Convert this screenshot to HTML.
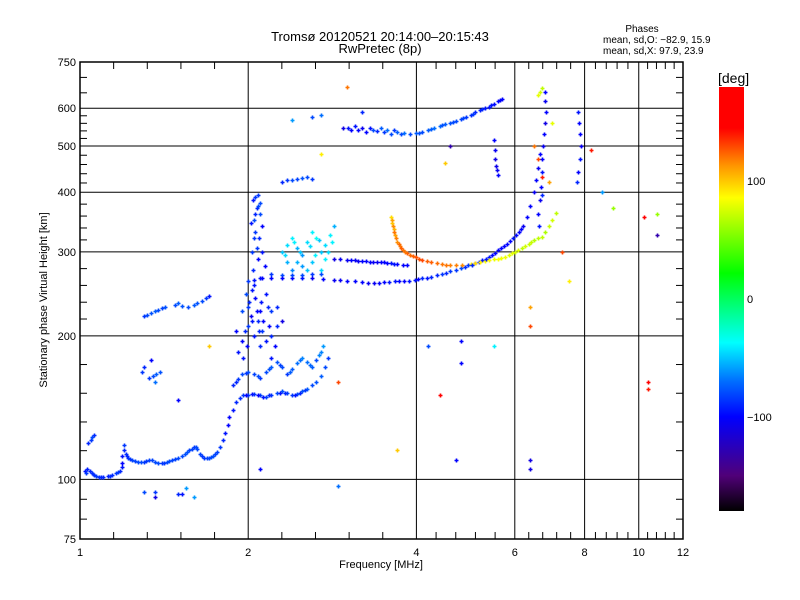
<!DOCTYPE html>
<html><head><meta charset="utf-8">
<style>
html,body{margin:0;padding:0;background:#fff;}
svg{display:block;font-family:"Liberation Sans",sans-serif;}
text{fill:#000;}
</style></head>
<body>
<svg id="chart" width="800" height="600" viewBox="0 0 800 600" xmlns="http://www.w3.org/2000/svg">
<defs>
<linearGradient id="cbar" x1="0" y1="1" x2="0" y2="0">
<stop offset="0" stop-color="#000"/>
<stop offset="0.083" stop-color="#500078"/>
<stop offset="0.222" stop-color="#0000ff"/>
<stop offset="0.306" stop-color="#006eff"/>
<stop offset="0.397" stop-color="#00ffff"/>
<stop offset="0.561" stop-color="#00ff00"/>
<stop offset="0.739" stop-color="#ffff00"/>
<stop offset="0.814" stop-color="#ff9600"/>
<stop offset="0.903" stop-color="#ff0000"/>
<stop offset="1" stop-color="#ff0000"/>
</linearGradient>
</defs>
<text x="380" y="41" font-size="13" text-anchor="middle">Tromsø 20120521 20:14:00–20:15:43</text>
<text x="380" y="53" font-size="13" text-anchor="middle">RwPretec (8p)</text>
<text x="642" y="32" font-size="10" text-anchor="middle">Phases</text>
<text x="603" y="43" font-size="10">mean, sd,O: −82.9, 15.9</text>
<text x="603" y="54" font-size="10">mean, sd,X:  97.9, 23.9</text>
<g id="grid"></g>
<g id="ticks"></g>
<g id="marks"></g>
<rect x="80" y="62" width="603" height="477" fill="none" stroke="#000" stroke-width="1.5"/>
<g id="labels"></g>
<text x="381" y="568" font-size="11" text-anchor="middle">Frequency [MHz]</text>
<text x="47" y="300" font-size="11" text-anchor="middle" transform="rotate(-90 47 300)">Stationary phase Virtual Height [km]</text>
<rect x="719" y="87" width="25" height="424" fill="url(#cbar)"/>
<text x="718" y="83" font-size="14">[deg]</text>
<g id="cblabels"></g>
</svg>
<script>
const xTicks=[1,2,4,6,8,10,12];
const yTicks=[75,100,200,300,400,500,600,750];
const cbTicks=[100,0,-100];

// Echo traces: frequency [MHz], virtual height [km], phase [deg]
const freqMHz=[
1.02,1.03,1.04,1.05,1.06,1.07,1.08,1.10,1.12,1.14,1.16,1.18,1.19,1.035,1.045,1.05,1.06,
1.19,1.19,1.20,1.20,1.21,1.22,1.24,1.27,1.30,1.33,1.36,1.40,1.43,1.46,1.50,1.54,1.57,1.60,1.62,1.64,1.67,1.70,1.73,1.76,1.78,1.80,1.82,1.84,
1.30,1.32,1.34,1.36,1.38,1.40,1.42,1.48,1.50,1.52,1.56,1.60,1.62,1.65,1.68,1.70,
1.33,1.35,1.37,1.39,1.36,1.34,1.30,1.29,
1.30,1.36,1.36,1.50,1.52,1.60,2.90,1.55,
1.85,1.88,1.90,1.93,1.96,2.00,2.05,2.10,2.15,2.20,2.25,2.30,2.35,2.40,2.45,2.50,2.55,2.60,2.65,2.70,2.75,2.78,
1.88,1.92,1.95,2.00,2.05,2.10,2.15,2.20,2.25,2.30,2.35,2.40,2.45,2.50,2.55,2.60,2.65,2.70,2.72,
1.92,1.95,1.97,2.00,2.02,2.05,2.08,2.10,2.00,1.98,2.03,2.06,2.10,2.12,2.15,2.18,2.20,1.95,2.00,2.04,2.08,2.06,2.05,2.07,2.04,2.08,2.10,2.06,2.02,2.12,2.03,2.10,2.25,2.30,2.20,1.90,2.15,2.25,
2.05,2.20,2.40,2.60,2.85,3.00,3.20,3.36,3.50,3.66,3.80,3.97,4.10,4.25,4.44,4.60,4.80,4.95,5.10,5.25,5.40,5.53,5.68,5.80,5.95,6.10,6.20,6.30,6.40,6.50,6.55,6.60,6.65,
2.85,3.00,3.10,3.20,3.30,3.40,3.50,3.60,3.70,3.85,
2.20,2.30,2.40,2.50,2.60,2.70,
2.30,2.35,2.40,2.45,2.50,2.55,2.60,2.65,2.70,2.75,2.80,2.85,2.50,2.60,2.70,2.40,2.75,2.35,
3.60,3.62,3.64,3.66,3.70,3.74,3.78,3.85,3.90,4.00,4.10,4.25,4.44,4.60,4.82,
5.00,5.10,5.30,5.50,5.68,5.85,6.00,6.17,6.35,6.50,6.70,6.80,6.90,7.00,7.10,
2.95,3.05,3.10,3.20,3.25,3.35,3.45,3.50,3.55,3.60,3.70,3.80,3.90,4.00,4.10,4.20,4.30,4.40,4.50,4.60,4.70,4.80,4.90,5.00,5.10,5.20,5.30,5.40,5.50,5.60,5.70,
2.60,2.70,2.40,3.20,2.70,
2.30,2.35,2.40,2.45,2.50,2.55,2.60,
5.50,5.52,5.53,5.55,5.57,5.60,
6.80,6.80,6.82,6.80,6.78,6.75,6.72,6.70,6.68,6.65,6.60,6.62,6.70,
6.60,6.65,6.70,
7.80,7.82,7.85,7.88,7.85,7.80,7.75,
6.50,6.60,6.70,6.90,7.30,7.50,7.00,
10.4,10.4,10.2,10.8,10.8,8.6,9.0,6.4,6.4,6.4,6.4,4.4,4.7,4.8,4.8,5.5,3.7,2.9,2.1,1.7,1.5,4.5,4.6,4.2,8.2,3.0,
1.215,1.23,1.255,1.285,1.315,1.345,1.38,1.415,1.445,1.48,1.52,1.555,1.585,1.61,1.655,1.685,1.715,1.745,
1.025,1.055,1.09,1.13,1.17,
1.98,2.03,2.08,2.13,2.18,2.28,2.33,2.43,2.48,2.53,
1.96,1.99,2.01,2.03,2.07,2.09,2.11,2.13,2.17,2.05,2.07,2.09,2.05,2.08,2.06,2.10,2.12,2.14,2.20,2.23,
2.12,2.30,2.50,2.72,2.92,3.10,3.28,3.43,3.58,3.73,3.88,4.03,4.17,4.35,4.52,4.70,4.88,5.02,5.18,5.33,5.47,5.60,5.74,5.88,6.02,6.15,
2.92,3.05,3.15,3.25,3.35,3.45,3.55,3.65,3.78,
3.61,3.63,3.65,3.68,3.72,3.76,3.82,3.95,4.05,4.18,4.35,4.52,4.70,
5.20,5.40,5.60,5.77,5.92,6.08,6.26,6.42,6.60,
3.02,3.15,3.30,3.40,3.65,3.75,4.05,4.25,4.45,4.65,4.85,5.05,5.25,5.45,5.65,
2.33,2.42,2.48,2.58,2.63,2.68,2.78,2.82,2.45,2.55,
1.90,1.98,2.08,2.18,2.28,2.38,2.48,2.58,2.68
];
const heightKm=[
104,105,104,103,102,101.5,101,101,101.5,102,103,104,106,119,121,123,124,
108,112,115,118,113,111,110,109,109,110,109,108,109,110,111,113,115,117,116,113,111,111,112,114,117,121,125,130,
220,221,223,225,227,229,230,232,234,231,230,232,234,237,240,242,
163,165,166,168,160,178,172,168,
94,94,92,93,93,92,97,96,
135,140,145,148,150,150,151,150,149,150,152,153,152,150,151,153,155,158,160,165,172,180,
158,162,166,168,166,163,168,172,176,172,166,170,175,180,176,172,178,185,190,
185,195,205,210,220,200,215,225,230,245,250,240,190,205,195,210,200,225,260,275,290,330,350,370,385,395,380,360,345,340,300,265,210,215,225,205,245,230,
262,265,265,264,262,261,259,258,259,260,261,262,264,266,270,273,277,281,284,288,293,298,306,312,320,330,340,355,375,400,425,450,480,
290,289,288,287,286,286,285,284,283,281,
270,268,268,268,269,270,
300,310,320,305,295,315,330,320,300,310,325,340,280,285,275,275,290,285,
355,345,335,325,315,308,302,299,296,292,289,286,283,282,282,
283,284,287,290,291,296,300,306,312,318,322,330,340,350,361,
545,540,550,545,535,540,545,535,540,530,535,532,530,532,535,540,545,550,555,560,565,570,575,580,588,595,600,605,612,620,628,
575,580,568,588,480,
420,425,425,426,428,430,427,
515,490,470,455,445,435,
650,620,590,560,530,500,470,440,410,385,360,340,395,
640,650,660,
590,560,530,500,470,440,420,
500,470,430,420,300,260,560,
160,155,355,360,325,400,370,230,210,110,105,150,110,175,195,190,115,160,105,190,147,460,500,190,490,665,
112,110.5,109.5,109,109.5,110,108.5,108.5,109.5,110.5,112,114,116,117,112,111,111.5,113,
103,102.5,101,101.5,103.5,
150,151,150,149,150,152,152,150,152,154,
180,190,235,215,225,205,235,215,230,255,305,320,320,375,390,360,300,280,180,190,
264,265,264,263,262,260,258,258,259,260,261,263,265,268,271,275,279,282,286,290,295,302,309,316,325,335,
290,288,287,287,286,285,284,283,282,
350,340,330,320,311,305,300,294,290,287,284,282,282,
285,288,290,293,298,303,309,315,320,
545,540,545,538,540,530,533,542,552,562,572,584,597,608,625,
295,315,300,308,295,318,300,315,285,275,
160,167,165,170,174,168,178,174,182
];
const phaseDeg=[
-95,-92,-90,-88,-90,-85,-88,-90,-92,-88,-85,-90,-95,-90,-85,-80,-88,
-100,-95,-90,-85,-88,-85,-82,-80,-85,-82,-80,-85,-80,-82,-80,-78,-82,-85,-80,-82,-85,-80,-78,-82,-85,-90,-95,-100,
-85,-80,-78,-75,-80,-82,-78,-80,-75,-78,-80,-76,-78,-80,-85,-95,
-85,-80,-75,-78,-70,-100,-90,-85,
-80,-85,-110,-90,-95,-60,-70,-60,
-100,-95,-90,-88,-85,-82,-85,-80,-82,-85,-80,-78,-82,-85,-80,-78,-75,-80,-78,-75,-80,-85,
-90,-85,-80,-78,-82,-85,-80,-75,-78,-80,-85,-75,-70,-65,-70,-75,-80,-65,-60,
-95,-100,-90,-85,-105,-95,-90,-100,-85,-80,-95,-100,-90,-85,-95,-100,-90,-80,-85,-90,-100,-85,-80,-90,-95,-85,-80,-90,-95,-100,-85,-95,-90,-110,-85,-100,-95,-90,
-95,-100,-100,-105,-105,-100,-100,-105,-100,-95,-100,-95,-90,-90,-85,-85,-80,-85,-90,-95,-95,-100,-100,-100,-95,-100,-105,-100,-100,-105,-100,-105,-100,
-110,-105,-105,-100,-100,-105,-100,-95,-100,-100,
-85,-80,-82,-80,-85,-80,
-50,-45,-40,-55,-60,-45,-40,-35,-50,-45,-40,-55,-60,-50,-45,-65,-40,-55,
95,100,105,110,115,118,120,125,122,128,130,125,120,118,115,
90,95,85,80,82,78,75,70,72,68,70,65,72,75,70,
-110,-100,-95,-105,-100,-80,-75,-85,-70,-80,-75,-70,-80,-75,-80,-75,-70,-72,-75,-78,-80,-82,-85,-88,-90,-92,-95,-95,-98,-100,-100,
-80,-70,-60,-90,90,
-90,-85,-80,-82,-78,-80,-85,
-100,-105,-110,-108,-105,-100,
-100,-105,-100,-110,-100,-105,-100,-95,-100,-105,-100,-95,-90,
80,75,70,
-95,-100,-100,-105,-95,-100,-90,
120,130,140,110,130,90,80,
150,140,150,60,-130,-60,60,110,130,-110,-110,150,-100,-100,-100,-40,100,130,-100,100,-100,100,-130,-80,140,120,
-90,-85,-82,-80,-85,-82,-80,-85,-80,-82,-80,-78,-82,-80,-85,-82,-80,-82,
-85,-88,-90,-88,-85,
-100,-95,-100,-95,-90,-95,-90,-95,-90,-85,
-95,-100,-90,-95,-100,-90,-95,-100,-90,-95,-85,-90,-85,-80,-85,-80,-95,-100,-95,-100,
-100,-100,-95,-100,-105,-100,-105,-100,-95,-100,-95,-100,-95,-90,-90,-85,-88,-90,-92,-95,-98,-100,-100,-100,-98,-100,
-105,-100,-105,-100,-105,-100,-100,-95,-100,
110,115,120,118,122,125,120,125,128,125,122,120,118,
90,88,85,82,80,78,75,72,70,
-95,-100,-95,-90,-85,-80,-78,-75,-78,-80,-82,-85,-90,-95,-100,
-45,-40,-50,-45,-40,-50,-45,-40,-55,-50,
-90,-85,-80,-78,-82,-75,-70,-72,-65
];

const X0=80,X1=683,Y0=62,Y1=539;
const fx=f=>X0+(Math.log10(f))/Math.log10(12)*(X1-X0);
const hy=h=>Y1-(Math.log10(h/75))/Math.log10(10)*(Y1-Y0);
const cbY=p=>87+(180-p)*424/360;

const NS='http://www.w3.org/2000/svg';
function mk(tag,attrs,parent){const e=document.createElementNS(NS,tag);for(const k in attrs)e.setAttribute(k,attrs[k]);parent.appendChild(e);return e;}

const stops=[[-180,0,0,0],[-150,80,0,120],[-100,0,0,255],[-70,0,110,255],[-37,0,255,255],[22,0,255,0],[86,255,255,0],[113,255,150,0],[145,255,0,0],[180,255,0,0]];
function colorOf(p){
  p=Math.max(-180,Math.min(180,p));
  for(let i=0;i<stops.length-1;i++){const a=stops[i],b=stops[i+1];
    if(p<=b[0]){const t=(p-a[0])/(b[0]-a[0]);
      return 'rgb('+[1,2,3].map(k=>Math.round(a[k]+t*(b[k]-a[k]))).join(',')+')';}}
  return 'rgb(255,0,0)';
}

const grid=document.getElementById('grid'),ticks=document.getElementById('ticks'),labels=document.getElementById('labels'),marks=document.getElementById('marks'),cbl=document.getElementById('cblabels');

xTicks.forEach(t=>{
  const x=fx(t);
  if(t>1&&t<12){const l=mk('line',{x1:x,x2:x,y1:Y0,y2:Y1,stroke:'#000','stroke-width':1},grid);
    
    }
  const tx=mk('text',{x:x,y:Y1+17,'font-size':11,'text-anchor':'middle'},labels);
  tx.textContent=t;
  
  
});
for(let i=0;i<xTicks.length-1;i++){
  const a=Math.log10(xTicks[i]),b=Math.log10(xTicks[i+1]);
  for(let k=1;k<5;k++){const x=fx(Math.pow(10,a+(b-a)*k/5));
    const t1=mk('line',{x1:x,x2:x,y1:Y1,y2:Y1-7,stroke:'#000'},ticks);
    
    
    const t2=mk('line',{x1:x,x2:x,y1:Y0,y2:Y0+7,stroke:'#000'},ticks);
    
    }
}
yTicks.forEach(t=>{
  const y=hy(t);
  if(t>75&&t<750){const l=mk('line',{x1:X0,x2:X1,y1:y,y2:y,stroke:'#000','stroke-width':1},grid);
    
    }
  const tx=mk('text',{x:X0-4,y:y+4,'font-size':11,'text-anchor':'end'},labels);
  tx.textContent=t;
  
  
});
for(let i=0;i<yTicks.length-1;i++){
  const a=Math.log10(yTicks[i]),b=Math.log10(yTicks[i+1]);
  const n=(yTicks[i]===75||yTicks[i]===600)?3:5;
  for(let k=1;k<n;k++){const y=hy(Math.pow(10,a+(b-a)*k/n));
    const t1=mk('line',{x1:X0,x2:X0+7,y1:y,y2:y,stroke:'#000'},ticks);
    
    
    const t2=mk('line',{x1:X1,x2:X1-7,y1:y,y2:y,stroke:'#000'},ticks);
    
    }
}
const n=Math.min(freqMHz.length,heightKm.length);
for(let i=0;i<n;i++){
  const x=Math.round(fx(freqMHz[i]))+0.5,y=Math.round(hy(heightKm[i]))+0.5;
  const p=phaseDeg[i]!==undefined?phaseDeg[i]:-90;
  const m=mk('path',{d:'M'+(x-2)+' '+y+'h4M'+x+' '+(y-2)+'v4',stroke:colorOf(p),'stroke-width':1.6,fill:'none'},marks);
  
  
}
cbTicks.forEach(t=>{
  const y=cbY(t);
  const tx=mk('text',{x:747,y:y+4,'font-size':11},cbl);
  tx.textContent=(t<0?'−':'')+Math.abs(t);
  
  
});
</script>
</body></html>
